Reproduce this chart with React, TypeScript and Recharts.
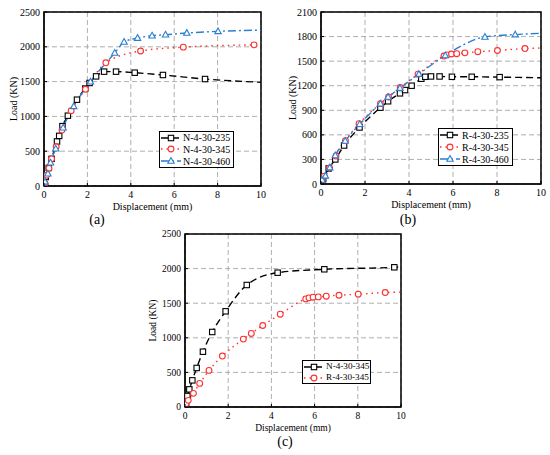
import React from 'react';
import { LineChart, Line, XAxis, YAxis, CartesianGrid, ReferenceArea, Legend } from 'recharts';

const FONT = 'Liberation Serif, DejaVu Serif, serif';

// ---------- tick labels ----------
const xTicks = [0, 2, 4, 6, 8, 10];
const yTicksN = [0, 500, 1000, 1500, 2000, 2500];
const yTicksR = [0, 300, 600, 900, 1200, 1500, 1800, 2100];

// ---------- panel (a) ----------
const a235X = [0, 0.08, 0.22, 0.35, 0.6, 0.7, 0.85, 1.1, 1.52, 1.9, 2.1, 2.4, 2.77, 3.32, 4.18, 5.48, 7.42, 10];
const a235Y = [0, 130, 260, 390, 640, 720, 860, 1010, 1240, 1400, 1480, 1575, 1643, 1643, 1628, 1595, 1537, 1490];
const a345X = [0, 0.05, 0.12, 0.23, 0.35, 0.56, 0.83, 1.25, 1.91, 2.85, 4.45, 6.42, 9.68, 10];
const a345Y = [0, 35, 155, 255, 390, 563, 803, 1082, 1390, 1770, 1940, 1995, 2028, 2030];
const a460X = [0, 0.05, 0.18, 0.3, 0.54, 0.88, 1.37, 2.14, 3.26, 3.69, 4.31, 4.98, 5.6, 6.58, 8.02, 10];
const a460Y = [0, 60, 177, 335, 536, 838, 1145, 1499, 1911, 2069, 2126, 2160, 2174, 2198, 2222, 2240];

// ---------- panel (b) ----------
const b235X = [0, 0.1, 0.35, 0.65, 1.05, 1.75, 2.7, 3.05, 3.59, 3.82, 4.12, 4.56, 4.74, 5.0, 5.39, 5.95, 6.85, 8.12, 10];
const b235Y = [0, 60, 190, 300, 470, 690, 932, 1010, 1107, 1147, 1200, 1285, 1309, 1313, 1313, 1309, 1309, 1305, 1297];
const b345X = [0, 0.05, 0.15, 0.39, 0.68, 1.11, 1.73, 2.7, 3.07, 3.6, 4.41, 5.59, 5.74, 5.93, 6.17, 6.54, 7.13, 8.02, 9.27, 10];
const b345Y = [0, 48, 96, 197, 341, 529, 736, 981, 1063, 1178, 1341, 1562, 1577, 1587, 1591, 1601, 1615, 1630, 1654, 1660];
const b460X = [0, 0.05, 0.2, 0.4, 0.65, 1.1, 1.76, 2.7, 3.05, 3.59, 4.45, 5.65, 7.45, 8.83, 10];
const b460Y = [0, 50, 100, 200, 349, 525, 730, 981, 1062, 1171, 1342, 1569, 1796, 1824, 1840];

// ---------- panel (c) ----------
const cN345X = [0, 0.05, 0.11, 0.2, 0.34, 0.54, 0.83, 1.26, 1.88, 2.86, 4.29, 6.45, 9.69, 10];
const cN345Y = [0, 35, 159, 255, 385, 564, 799, 1084, 1383, 1763, 1941, 1990, 2019, 2025];
const cR345X = [0, 0.05, 0.15, 0.39, 0.68, 1.11, 1.73, 2.7, 3.07, 3.6, 4.41, 5.59, 5.74, 5.93, 6.17, 6.54, 7.13, 8.02, 9.27, 10];
const cR345Y = [0, 48, 96, 197, 341, 529, 736, 981, 1063, 1178, 1341, 1562, 1577, 1587, 1591, 1601, 1615, 1630, 1654, 1660];

const zip = (xs: number[], ys: number[]) => xs.map((x, i) => ({ x, y: ys[i] }));

const BLACK = '#000000';
const RED = '#ff3030';
const BLUE = '#2a7ed2';

type Shape = 'square' | 'circle' | 'triangle';

interface Series {
  name: string;
  data: { x: number; y: number }[];
  color: string;
  shape: Shape;
  dash: string;
}

function Marker({ shape, cx, cy, color }: { shape: Shape; cx: number; cy: number; color: string }) {
  if (shape === 'square')
    return <rect x={cx - 2.7} y={cy - 2.7} width={5.4} height={5.4} fill="#fff" stroke={color} strokeWidth={1.1} />;
  if (shape === 'circle') return <circle cx={cx} cy={cy} r={2.9} fill="#fff" stroke={color} strokeWidth={1.1} />;
  return (
    <polygon
      points={`${cx},${cy - 3.4} ${cx + 3.2},${cy + 2.3} ${cx - 3.2},${cy + 2.3}`}
      fill="#fff"
      stroke={color}
      strokeWidth={1.1}
    />
  );
}

const makeDot = (shape: Shape, color: string, n: number) => (props: any) => {
  const { cx, cy, index } = props;
  if (index === n - 1 || index === 0 || cx == null || cy == null) return <g key={`d${index}`} />;
  return (
    <g key={`d${index}`}>
      <Marker shape={shape} cx={cx} cy={cy} color={color} />
    </g>
  );
};

const DASH_BLACK = '7 4';
const DASH_RED = '1.5 4';
const DASH_BLUE = '8 3 2 3';

const seriesA: Series[] = [
  { name: 'N-4-30-235', data: zip(a235X, a235Y), color: BLACK, shape: 'square', dash: DASH_BLACK },
  { name: 'N-4-30-345', data: zip(a345X, a345Y), color: RED, shape: 'circle', dash: DASH_RED },
  { name: 'N-4-30-460', data: zip(a460X, a460Y), color: BLUE, shape: 'triangle', dash: DASH_BLUE },
];
const seriesB: Series[] = [
  { name: 'R-4-30-235', data: zip(b235X, b235Y), color: BLACK, shape: 'square', dash: DASH_BLACK },
  { name: 'R-4-30-345', data: zip(b345X, b345Y), color: RED, shape: 'circle', dash: DASH_RED },
  { name: 'R-4-30-460', data: zip(b460X, b460Y), color: BLUE, shape: 'triangle', dash: DASH_BLUE },
];
const seriesC: Series[] = [
  { name: 'N-4-30-345', data: zip(cN345X, cN345Y), color: BLACK, shape: 'square', dash: DASH_BLACK },
  { name: 'R-4-30-345', data: zip(cR345X, cR345Y), color: RED, shape: 'circle', dash: DASH_RED },
];

function LegendBox({
  series,
  width,
  height,
  fontSize,
}: {
  series: Series[];
  width: number;
  height: number;
  fontSize: number;
}) {
  return (
    <div
      style={{
        boxSizing: 'border-box',
        width,
        height,
        border: '1.5px solid #000',
        background: '#fff',
        display: 'flex',
        flexDirection: 'column',
        justifyContent: 'space-around',
        padding: '0 0 0 1px',
        overflow: 'visible',
      }}
    >
      {series.map((s) => (
        <div key={s.name} style={{ display: 'flex', alignItems: 'center', height: 11, whiteSpace: 'nowrap' }}>
          <svg width={20} height={10} style={{ display: 'block', flex: 'none' }}>
            <line x1={0} y1={5} x2={20} y2={5} stroke={s.color} strokeWidth={1.3} strokeDasharray={s.dash} />
            <Marker shape={s.shape} cx={10} cy={5} color={s.color} />
          </svg>
          <span
            style={{
              fontFamily: FONT,
              fontSize,
              marginLeft: 2,
              lineHeight: '11px',
              color: '#000',
              whiteSpace: 'nowrap',
            }}
          >
            {s.name}
          </span>
        </div>
      ))}
    </div>
  );
}

interface PanelProps {
  left: number;
  top: number;
  width: number;
  height: number;
  marginTop: number;
  marginRight: number;
  yAxisWidth: number;
  xAxisHeight: number;
  yTicks: number[];
  series: Series[];
  legend: { left: number; top: number; width: number; height: number; fontSize: number };
  yLabelX: number;
  fontSize: number;
}

function Panel(p: PanelProps) {
  const yMax = p.yTicks[p.yTicks.length - 1];
  const fs = p.fontSize;
  const txt = { fontFamily: FONT, fontSize: fs, fill: '#000' };
  const XTick = (tp: any) => {
    const { x, y, payload } = tp;
    const axisY = y - 5;
    return (
      <g>
        <line x1={x} y1={axisY} x2={x} y2={axisY - 3} stroke="#000" strokeWidth={1} />
        <text x={x} y={y} dy="0.71em" textAnchor="middle" style={txt}>
          {payload.value}
        </text>
      </g>
    );
  };
  const YTick = (tp: any) => {
    const { x, y, payload } = tp;
    const axisX = x + 4;
    return (
      <g>
        <line x1={axisX} y1={y} x2={axisX + 3} y2={y} stroke="#000" strokeWidth={1} />
        <text x={x} y={y} dy="0.355em" textAnchor="end" style={txt}>
          {payload.value}
        </text>
      </g>
    );
  };
  return (
    <div style={{ position: 'absolute', left: p.left, top: p.top }}>
      <LineChart
        width={p.width}
        height={p.height}
        margin={{ top: p.marginTop, right: p.marginRight, left: 0, bottom: 0 }}
        style={{ fontFamily: FONT }}
      >
        <CartesianGrid stroke="#9a9a9a" strokeDasharray="5 3" strokeWidth={0.8} />
        <XAxis
          type="number"
          dataKey="x"
          domain={[0, 10]}
          ticks={xTicks}
          allowDataOverflow
          height={p.xAxisHeight}
          tickLine={false}
          tickSize={0}
          tickMargin={5}
          tick={XTick}
          stroke="#000"
          label={{
            content: (lp: any) => {
              const vb = lp.viewBox;
              return (
                <text x={vb.x + vb.width / 2} y={vb.y + 24} textAnchor="middle" style={txt}>
                  Displacement (mm)
                </text>
              );
            },
          }}
        />
        <YAxis
          type="number"
          dataKey="y"
          domain={[0, yMax]}
          ticks={p.yTicks}
          allowDataOverflow
          width={p.yAxisWidth}
          tickLine={false}
          tickSize={0}
          tickMargin={4}
          tick={YTick}
          stroke="#000"
          label={{
            content: (lp: any) => {
              const vb = lp.viewBox;
              const cy = vb.y + vb.height / 2;
              return (
                <text
                  x={p.yLabelX}
                  y={cy}
                  textAnchor="middle"
                  dominantBaseline="central"
                  transform={`rotate(-90 ${p.yLabelX} ${cy})`}
                  style={txt}
                >
                  Load (KN)
                </text>
              );
            },
          }}
        />
        <ReferenceArea x1={0} x2={10} y1={0} y2={yMax} fill="none" stroke="#000" strokeWidth={1.5} />
        {p.series.map((s) => (
          <Line
            key={s.name}
            data={s.data}
            dataKey="y"
            name={s.name}
            type="monotone"
            stroke={s.color}
            strokeWidth={1.4}
            strokeDasharray={s.dash}
            dot={makeDot(s.shape, s.color, s.data.length)}
            activeDot={false}
            isAnimationActive={false}
          />
        ))}
        <Legend
          layout="horizontal"
          verticalAlign="middle"
          align="center"
          wrapperStyle={{ left: p.legend.left, top: p.legend.top, width: p.legend.width, height: p.legend.height }}
          content={() => (
            <LegendBox
              series={p.series}
              width={p.legend.width}
              height={p.legend.height}
              fontSize={p.legend.fontSize}
            />
          )}
        />
      </LineChart>
    </div>
  );
}

function Caption({ x, y, text }: { x: number; y: number; text: string }) {
  return (
    <div
      style={{
        position: 'absolute',
        left: x - 20,
        top: y - 9,
        width: 40,
        textAlign: 'center',
        fontFamily: FONT,
        fontSize: 14,
        lineHeight: '18px',
        color: '#000',
      }}
    >
      {text}
    </div>
  );
}

export default function App() {
  return (
    <div
      style={{
        position: 'absolute',
        left: 0,
        top: 0,
        width: 550,
        height: 455,
        background: '#fff',
        overflow: 'hidden',
        fontFamily: FONT,
      }}
    >
      <Panel
        left={0}
        top={0}
        width={275}
        height={230}
        marginTop={12}
        marginRight={14}
        yAxisWidth={44}
        xAxisHeight={44}
        yTicks={yTicksN}
        series={seriesA}
        legend={{ left: 159, top: 131, width: 75, height: 37, fontSize: 10 }}
        yLabelX={13}
        fontSize={10}
      />
      <Panel
        left={275}
        top={0}
        width={275}
        height={230}
        marginTop={12}
        marginRight={9}
        yAxisWidth={46}
        xAxisHeight={46}
        yTicks={yTicksR}
        series={seriesB}
        legend={{ left: 163, top: 128, width: 75, height: 38, fontSize: 10 }}
        yLabelX={17}
        fontSize={10}
      />
      <Panel
        left={130}
        top={225}
        width={290}
        height={230}
        marginTop={9}
        marginRight={19}
        yAxisWidth={55}
        xAxisHeight={48}
        yTicks={yTicksN}
        series={seriesC}
        legend={{ left: 172, top: 135, width: 69, height: 24, fontSize: 9.2 }}
        yLabelX={23}
        fontSize={9.5}
      />
      <Caption x={97} y={220} text="(a)" />
      <Caption x={408} y={220} text="(b)" />
      <Caption x={285} y={442} text="(c)" />
    </div>
  );
}
